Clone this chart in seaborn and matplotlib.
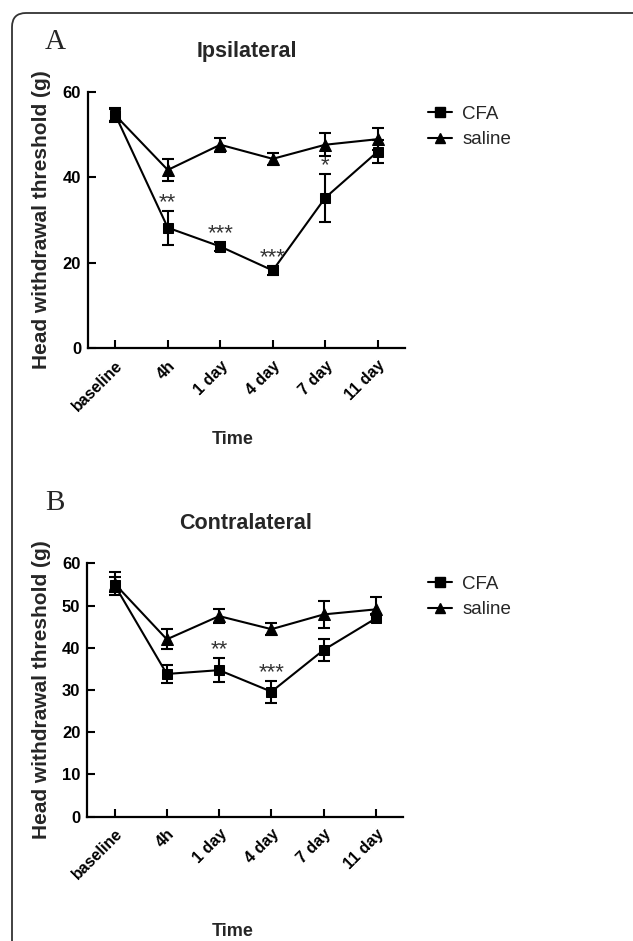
import numpy as np
import pandas as pd
import matplotlib
matplotlib.use("Agg")
import matplotlib.pyplot as plt
import seaborn as sns
from matplotlib.patches import FancyBboxPatch
from matplotlib.transforms import IdentityTransform
from matplotlib.lines import Line2D

# ---- data ----
time_labels = ["baseline", "4h", "1 day", "4 day", "7 day", "11 day"]
groups = ["CFA", "saline"]

ipsi_cfa = [54.6, 28.2, 23.8, 18.2, 35.2, 46.0]
ipsi_cfa_sem = [1.5, 4.0, 1.0, 1.1, 5.6, 2.7]
ipsi_sal = [54.5, 41.7, 47.6, 44.3, 47.6, 48.9]
ipsi_sal_sem = [1.5, 2.5, 1.6, 1.4, 2.7, 2.6]

contra_cfa = [54.9, 33.8, 34.7, 29.6, 39.5, 47.0]
contra_cfa_sem = [1.8, 2.1, 2.9, 2.6, 2.6, 1.0]
contra_sal = [55.2, 42.0, 47.5, 44.4, 47.9, 49.1]
contra_sal_sem = [2.8, 2.4, 1.6, 1.4, 3.2, 3.0]

ipsi_stars = ["", "**", "***", "***", "*", ""]
contra_stars = ["", "", "**", "***", "", ""]

ipsi_yticks = [0, 20, 40, 60]
contra_yticks = [0, 10, 20, 30, 40, 50, 60]

# ---- style ----
sns.set_theme(style="ticks")
plt.rcParams["font.family"] = ["Liberation Sans", "DejaVu Sans"]

W, H = 633, 941
DPI = 100
fig = plt.figure(figsize=(W / DPI, H / DPI), dpi=DPI)


def fx(px):
    return px / W


def fy(py):
    return 1 - py / H


# rounded border
border = FancyBboxPatch((12, -60), 700, H - 13 + 60,
                        boxstyle="round,pad=0,rounding_size=14",
                        transform=IdentityTransform(), fill=False,
                        edgecolor="#333333", linewidth=1.3)
fig.patches.append(border)


def make_df(cfa, cfa_sem, sal, sal_sem):
    rows = []
    for g, vals, sems in (("CFA", cfa, cfa_sem), ("saline", sal, sal_sem)):
        for i, (t, v, s) in enumerate(zip(time_labels, vals, sems)):
            rows.append({"pos": i, "time": t, "group": g, "value": v, "sem": s})
    return pd.DataFrame(rows)


markers = {"CFA": "s", "saline": "^"}
msizes = {"CFA": 7.5, "saline": 8.5}


def panel(rect, df, yticks, stars, title, letter, letter_xy, time_xy, ylab_xy, leg_xy):
    ax = fig.add_axes(rect)
    for g in groups:
        sub = df[df.group == g]
        sns.lineplot(data=sub, x="pos", y="value", ax=ax, color="black",
                     marker=markers[g], markersize=msizes[g], markeredgecolor="black",
                     linewidth=1.5, legend=False, errorbar=None, zorder=3)
        ax.errorbar(sub["pos"], sub["value"], yerr=sub["sem"], fmt="none",
                    ecolor="black", elinewidth=1.5, capsize=4.5, capthick=1.5, zorder=2)
    cfa = df[df.group == "CFA"].reset_index(drop=True)
    for i, s in enumerate(stars):
        if s:
            top = cfa.loc[i, "value"] + cfa.loc[i, "sem"]
            ax.text(i, top + 0.6, s, ha="center", va="baseline", fontsize=16,
                    color="#333333")
    ax.set_xlim(-0.52, 5.52)
    ax.set_ylim(0, 60)
    ax.set_xticks(range(len(time_labels)))
    ax.set_xticklabels(time_labels, rotation=45, ha="right",
                       rotation_mode="anchor", fontsize=11.5, fontweight="bold")
    ax.set_yticks(yticks)
    ax.set_yticklabels([str(t) for t in yticks], fontsize=12, fontweight="bold")
    ax.tick_params(axis="both", direction="in", length=6, width=1.5, colors="black",
                   pad=5)
    ax.tick_params(axis="x", pad=7)
    sns.despine(ax=ax)
    for sp in ("left", "bottom"):
        ax.spines[sp].set_linewidth(1.6)
        ax.spines[sp].set_color("black")
    ax.set_xlabel("")
    ax.set_ylabel("")
    ax.set_title(title, fontsize=15.5, fontweight="bold", pad=25)
    fig.text(fx(letter_xy[0]), fy(letter_xy[1]), letter, ha="center", va="center",
             fontsize=21, family=["Liberation Serif", "DejaVu Serif"])
    fig.text(fx(time_xy[0]), fy(time_xy[1]), "Time", ha="center", va="center",
             fontsize=13, fontweight="bold")
    fig.text(fx(ylab_xy[0]), fy(ylab_xy[1]), "Head withdrawal threshold (g)",
             ha="center", va="center", rotation=90, fontsize=15, fontweight="bold")
    handles = [Line2D([], [], color="black", marker=markers[g], markersize=msizes[g] - 1,
                      linewidth=1.5) for g in groups]
    ax.legend(handles, groups, loc="upper left",
              bbox_to_anchor=(fx(leg_xy[0]), fy(leg_xy[1])),
              bbox_transform=fig.transFigure, frameon=False,
              prop={"size": 13.5},
              handlelength=1.3, handletextpad=0.55, labelspacing=0.45,
              borderaxespad=0)
    return ax


dfA = make_df(ipsi_cfa, ipsi_cfa_sem, ipsi_sal, ipsi_sal_sem)
dfB = make_df(contra_cfa, contra_cfa_sem, contra_sal, contra_sal_sem)

panel([fx(88), fy(348.3), fx(405) - fx(88), fy(91.7) - fy(348.3)], dfA, ipsi_yticks,
      ipsi_stars, "Ipsilateral", "A", (55, 42), (233, 440), (42, 220), (420, 98))
panel([fx(87.3), fy(816.7), fx(403.3) - fx(87.3), fy(563.3) - fy(816.7)], dfB, contra_yticks,
      contra_stars, "Contralateral", "B", (55, 503), (233, 932), (42, 690), (420, 568))

fig.savefig("out.png", dpi=DPI)
